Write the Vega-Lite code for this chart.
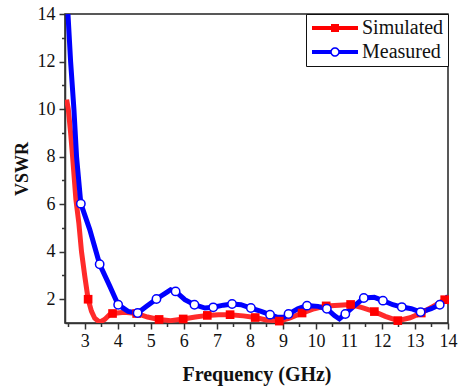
{
  "$schema": "https://vega.github.io/schema/vega-lite/v6.json",
  "width": 383,
  "height": 309,
  "autosize": "none",
  "padding": {"left": 65, "top": 14, "right": 14, "bottom": 64},
  "background": "white",
  "config": {
    "view": {"stroke": "#222", "strokeWidth": 1.5},
    "font": "Liberation Serif",
    "axis": {
      "grid": false,
      "domainColor": "#333",
      "domainWidth": 1.5,
      "tickColor": "#333",
      "tickWidth": 1.5,
      "labelFont": "Liberation Serif",
      "labelFontSize": 18,
      "labelColor": "#111",
      "titleFont": "Liberation Serif",
      "titleFontWeight": "bold",
      "titleColor": "#111"
    },
    "legend": {"labelFont": "Liberation Serif"}
  },
  "datasets": {
    "lines": [
      {"series": "Simulated", "f": 2.45, "v": 10.4}, {"series": "Simulated", "f": 2.5, "v": 10.0}, {"series": "Simulated", "f": 2.57, "v": 9.0}, {"series": "Simulated", "f": 2.63, "v": 8.0},
      {"series": "Simulated", "f": 2.73, "v": 6.2}, {"series": "Simulated", "f": 2.82, "v": 5.2}, {"series": "Simulated", "f": 2.9, "v": 4.0}, {"series": "Simulated", "f": 3.0, "v": 2.96},
      {"series": "Simulated", "f": 3.1, "v": 2.0}, {"series": "Simulated", "f": 3.2, "v": 1.5}, {"series": "Simulated", "f": 3.3, "v": 1.2}, {"series": "Simulated", "f": 3.45, "v": 1.03},
      {"series": "Simulated", "f": 3.6, "v": 1.15}, {"series": "Simulated", "f": 3.75, "v": 1.35}, {"series": "Simulated", "f": 3.84, "v": 1.4}, {"series": "Simulated", "f": 4.2, "v": 1.45},
      {"series": "Simulated", "f": 4.57, "v": 1.4}, {"series": "Simulated", "f": 4.9, "v": 1.25}, {"series": "Simulated", "f": 5.25, "v": 1.15}, {"series": "Simulated", "f": 5.6, "v": 1.1},
      {"series": "Simulated", "f": 5.98, "v": 1.17}, {"series": "Simulated", "f": 6.35, "v": 1.25}, {"series": "Simulated", "f": 6.71, "v": 1.32}, {"series": "Simulated", "f": 7.05, "v": 1.35},
      {"series": "Simulated", "f": 7.4, "v": 1.35}, {"series": "Simulated", "f": 7.8, "v": 1.3}, {"series": "Simulated", "f": 8.16, "v": 1.23}, {"series": "Simulated", "f": 8.5, "v": 1.13},
      {"series": "Simulated", "f": 8.89, "v": 1.08}, {"series": "Simulated", "f": 9.2, "v": 1.2}, {"series": "Simulated", "f": 9.58, "v": 1.42}, {"series": "Simulated", "f": 9.95, "v": 1.6},
      {"series": "Simulated", "f": 10.31, "v": 1.72}, {"series": "Simulated", "f": 10.7, "v": 1.75}, {"series": "Simulated", "f": 11.05, "v": 1.78}, {"series": "Simulated", "f": 11.4, "v": 1.65},
      {"series": "Simulated", "f": 11.77, "v": 1.48}, {"series": "Simulated", "f": 12.1, "v": 1.28}, {"series": "Simulated", "f": 12.48, "v": 1.1}, {"series": "Simulated", "f": 12.85, "v": 1.22},
      {"series": "Simulated", "f": 13.19, "v": 1.42}, {"series": "Simulated", "f": 13.55, "v": 1.7}, {"series": "Simulated", "f": 13.9, "v": 1.98}, {"series": "Simulated", "f": 14.0, "v": 2.08},
      {"series": "Measured", "f": 2.49, "v": 14.0}, {"series": "Measured", "f": 2.57, "v": 12.0}, {"series": "Measured", "f": 2.67, "v": 10.0}, {"series": "Measured", "f": 2.75, "v": 8.0},
      {"series": "Measured", "f": 2.88, "v": 6.02}, {"series": "Measured", "f": 3.15, "v": 4.93}, {"series": "Measured", "f": 3.45, "v": 3.47}, {"series": "Measured", "f": 3.76, "v": 2.54},
      {"series": "Measured", "f": 4.01, "v": 1.77}, {"series": "Measured", "f": 4.31, "v": 1.49}, {"series": "Measured", "f": 4.6, "v": 1.42}, {"series": "Measured", "f": 4.87, "v": 1.7},
      {"series": "Measured", "f": 5.17, "v": 2.01}, {"series": "Measured", "f": 5.48, "v": 2.29}, {"series": "Measured", "f": 5.6, "v": 2.4}, {"series": "Measured", "f": 5.75, "v": 2.33},
      {"series": "Measured", "f": 6.03, "v": 1.98}, {"series": "Measured", "f": 6.32, "v": 1.77}, {"series": "Measured", "f": 6.64, "v": 1.63}, {"series": "Measured", "f": 6.89, "v": 1.66},
      {"series": "Measured", "f": 7.2, "v": 1.75}, {"series": "Measured", "f": 7.46, "v": 1.8}, {"series": "Measured", "f": 7.73, "v": 1.77}, {"series": "Measured", "f": 8.03, "v": 1.63},
      {"series": "Measured", "f": 8.34, "v": 1.49}, {"series": "Measured", "f": 8.61, "v": 1.35}, {"series": "Measured", "f": 8.84, "v": 1.24}, {"series": "Measured", "f": 9.04, "v": 1.24},
      {"series": "Measured", "f": 9.17, "v": 1.38}, {"series": "Measured", "f": 9.45, "v": 1.6}, {"series": "Measured", "f": 9.73, "v": 1.73}, {"series": "Measured", "f": 10.06, "v": 1.7},
      {"series": "Measured", "f": 10.33, "v": 1.6}, {"series": "Measured", "f": 10.56, "v": 1.31}, {"series": "Measured", "f": 10.71, "v": 1.17}, {"series": "Measured", "f": 10.89, "v": 1.38},
      {"series": "Measured", "f": 11.17, "v": 1.73}, {"series": "Measured", "f": 11.45, "v": 2.05}, {"series": "Measured", "f": 11.77, "v": 2.08}, {"series": "Measured", "f": 12.03, "v": 1.94},
      {"series": "Measured", "f": 12.33, "v": 1.77}, {"series": "Measured", "f": 12.6, "v": 1.67}, {"series": "Measured", "f": 12.89, "v": 1.6}, {"series": "Measured", "f": 13.17, "v": 1.46},
      {"series": "Measured", "f": 13.49, "v": 1.6}, {"series": "Measured", "f": 13.75, "v": 1.77}, {"series": "Measured", "f": 14.0, "v": 2.12}
    ],
    "simMarks": [
      {"f": 3.1, "v": 2.0}, {"f": 3.84, "v": 1.4}, {"f": 4.57, "v": 1.4}, {"f": 5.25, "v": 1.15},
      {"f": 5.98, "v": 1.17}, {"f": 6.71, "v": 1.32}, {"f": 7.4, "v": 1.35}, {"f": 8.16, "v": 1.23},
      {"f": 8.89, "v": 1.08}, {"f": 9.58, "v": 1.42}, {"f": 10.31, "v": 1.72}, {"f": 11.05, "v": 1.78},
      {"f": 11.77, "v": 1.48}, {"f": 12.48, "v": 1.1}, {"f": 13.19, "v": 1.42}, {"f": 13.9, "v": 1.98}
    ],
    "measMarks": [
      {"f": 2.88, "v": 6.02}, {"f": 3.45, "v": 3.47}, {"f": 4.01, "v": 1.77}, {"f": 4.6, "v": 1.42},
      {"f": 5.17, "v": 2.01}, {"f": 5.75, "v": 2.33}, {"f": 6.32, "v": 1.77}, {"f": 6.89, "v": 1.66},
      {"f": 7.46, "v": 1.8}, {"f": 8.03, "v": 1.63}, {"f": 8.61, "v": 1.35}, {"f": 9.17, "v": 1.38},
      {"f": 9.73, "v": 1.73}, {"f": 10.33, "v": 1.6}, {"f": 10.89, "v": 1.38}, {"f": 11.45, "v": 2.05},
      {"f": 12.03, "v": 1.94}, {"f": 12.6, "v": 1.67}, {"f": 13.17, "v": 1.46}, {"f": 13.75, "v": 1.77}
    ]
  },
  "encoding": {
    "x": {
      "field": "f", "type": "quantitative",
      "scale": {"domain": [2.4, 14], "nice": false, "zero": false},
      "axis": {
        "title": "Frequency (GHz)",
        "titleFontSize": 20,
        "titleY": 57,
        "titleBaseline": "alphabetic",
        "values": [2.5, 3, 3.5, 4, 4.5, 5, 5.5, 6, 6.5, 7, 7.5, 8, 8.5, 9, 9.5, 10, 10.5, 11, 11.5, 12, 12.5, 13, 13.5, 14],
        "labelExpr": "datum.value % 1 == 0 ? format(datum.value, 'd') : ''",
        "tickSize": {"condition": {"test": "datum.value % 1 == 0", "value": 6}, "value": 3.5},
        "labelPadding": 3,
        "labelFont": "Liberation Serif",
        "labelFlush": false,
        "labelOverlap": false
      }
    },
    "y": {
      "field": "v", "type": "quantitative",
      "scale": {"domain": [1, 14], "nice": false, "zero": false},
      "axis": {
        "title": "VSWR",
        "titleFontSize": 18,
        "titlePadding": 6,
        "values": [2, 3, 4, 5, 6, 7, 8, 9, 10, 11, 12, 13, 14],
        "labelExpr": "datum.value % 2 == 0 ? format(datum.value, 'd') : ''",
        "tickSize": {"condition": {"test": "datum.value % 2 == 0", "value": 6}, "value": 3.5},
        "labelPadding": 4,
        "labelFont": "Liberation Serif",
        "labelFlush": false,
        "labelOverlap": false
      }
    }
  },
  "layer": [
    {
      "data": {"name": "lines"},
      "mark": {"type": "line", "strokeWidth": 5, "clip": true},
      "encoding": {
        "color": {
          "field": "series", "type": "nominal",
          "scale": {"domain": ["Simulated", "Measured"], "range": ["#ff2a2a", "#0000ff"]},
          "legend": {
            "title": null,
            "orient": "top-right",
            "offset": 0,
            "strokeColor": "#111",
            "fillColor": "white",
            "padding": 4,
            "rowPadding": 4,
            "symbolSize": 100,
            "labelFont": "Liberation Serif",
            "labelFontSize": 20,
            "labelColor": "#111",
            "labelOffset": 5,
            "encode": {
              "symbols": {
                "update": {
                  "shape": {"signal": "datum.value == 'Simulated' ? 'M-4.6,-0.4H4.6V0.4H-4.6Z M-0.8,-0.8H0.8V0.8H-0.8Z' : 'M-4.6,-0.4H-0.85V0.4H-4.6Z M0.85,-0.4H4.6V0.4H0.85Z M-0.95,0A0.95,0.95,0,1,1,0.95,0A0.95,0.95,0,1,1,-0.95,0Z M-0.65,0A0.65,0.65,0,1,0,0.65,0A0.65,0.65,0,1,0,-0.65,0Z'"},
                  "fill": {"signal": "datum.value == 'Simulated' ? '#ff0000' : '#0000ff'"},
                  "strokeWidth": {"value": 0},
                  "opacity": {"value": 1},
                  "x": {"value": 25}
                }
              },
              "labels": {
                "update": {"x": {"value": 52}}
              }
            }
          }
        }
      }
    },
    {
      "data": {"name": "simMarks"},
      "mark": {"type": "point", "shape": "square", "filled": true, "color": "#ff0000", "size": 75, "opacity": 1},
      "encoding": {}
    },
    {
      "data": {"name": "measMarks"},
      "mark": {"type": "point", "shape": "circle", "filled": false, "fill": "white", "fillOpacity": 1, "stroke": "#0000ff", "strokeWidth": 1.5, "size": 70, "opacity": 1},
      "encoding": {}
    }
  ]
}
